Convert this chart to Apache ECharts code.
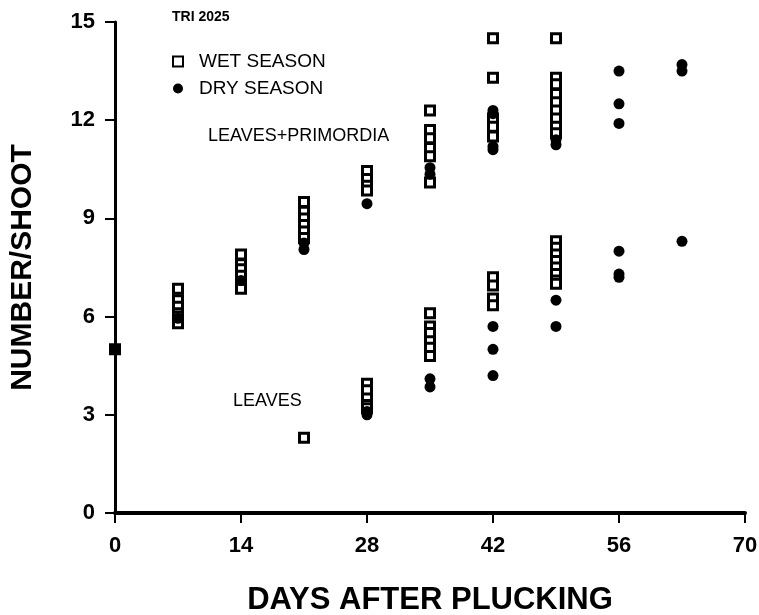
<!DOCTYPE html>
<html>
<head>
<meta charset="utf-8">
<script src="https://cdn.jsdelivr.net/npm/echarts@6/dist/echarts.min.js"></script>
<style>html,body{margin:0;padding:0;background:#fff}#c{width:759px;height:615px}</style>
</head>
<body>
<div id="c"></div>
<script>
// Tick labels
var xTicks = [0, 14, 28, 42, 56, 70];
var yTicks = [0, 3, 6, 9, 12, 15];

// WET SEASON - leaves + primordia [day, number/shoot]
var wetLPDays = [0, 7,7,7,7,7,7,7, 14,14,14,14,14,14,14, 21,21,21,21,21,21, 28,28,28,28, 35,35,35,35,35,35, 42,42,42,42,42, 49,49,49,49,49,49,49,49,49];
var wetLPVals = [5.0, 6.85,6.5,6.3,6.1,6.0,5.9,5.8, 7.9,7.6,7.45,7.25,7.05,6.95,6.85, 9.5,9.2,9.0,8.8,8.6,8.4, 10.45,10.2,10.0,9.85, 12.3,11.7,11.45,11.15,10.9,10.1, 14.5,13.3,12.05,11.8,11.5, 14.5,13.3,13.1,12.8,12.55,12.3,12.05,11.8,11.6];
// WET SEASON - leaves
var wetLDays = [21, 28,28,28,28,28, 35,35,35,35,35,35, 42,42,42,42, 49,49,49,49,49,49,49,49];
var wetLVals = [2.3, 3.95,3.75,3.5,3.3,3.2, 6.1,5.7,5.5,5.25,5.05,4.8, 7.2,6.95,6.55,6.35, 8.3,8.1,7.9,7.7,7.5,7.3,7.1,7.0];

// DRY SEASON - leaves + primordia
var dryLPDays = [0, 7, 14, 21,21, 28, 35,35, 42,42,42,42, 49,49, 56,56,56, 63,63];
var dryLPVals = [5.0, 5.95, 7.1, 8.25,8.05, 9.45, 10.55,10.35, 12.3,12.2,11.2,11.1, 11.4,11.25, 13.5,12.5,11.9, 13.7,13.5];
// DRY SEASON - leaves
var dryLDays = [28,28, 35,35, 42,42,42, 49,49, 56,56,56, 63];
var dryLVals = [3.1,3.0, 4.1,3.85, 5.7,5.0,4.2, 6.5,5.7, 8.0,7.3,7.2, 8.3];

function pairs(d, v){ return d.map(function(x,i){ return [x, v[i]]; }); }
var wetData = pairs(wetLPDays, wetLPVals).concat(pairs(wetLDays, wetLVals));
var dryData = pairs(dryLPDays, dryLPVals).concat(pairs(dryLDays, dryLVals));

var FONT = 'Liberation Sans, Arial, sans-serif';
var chart = echarts.init(document.getElementById('c'), null, {renderer:'canvas'});
chart.setOption({
  animation: false,
  backgroundColor: '#fff',
  grid: {left: 115, right: 14, top: 22, bottom: 102, containLabel: false, outerBoundsMode: 'none'},
  legend: {
    orient: 'vertical', left: 167, top: 47, itemGap: 8,
    itemWidth: 10, itemHeight: 10,
    textStyle: {fontFamily: FONT, fontSize: 19, color: '#000', fontWeight: 'normal', padding: [0,0,0,11]},
    data: ['WET SEASON', 'DRY SEASON']
  },
  xAxis: {
    type: 'value', min: 0, max: 70, interval: 14,
    axisLine: {show: true, lineStyle: {color: '#000', width: 4}},
    axisTick: {show: true, inside: false, length: 10, lineStyle: {color: '#000', width: 2}},
    axisLabel: {fontFamily: FONT, fontSize: 22, fontWeight: 'bold', color: '#000', margin: 22,
      formatter: function(v){ return xTicks.indexOf(v) >= 0 ? String(v) : ''; }},
    splitLine: {show: false},
    name: 'DAYS AFTER PLUCKING', nameLocation: 'middle', nameGap: 72,
    nameTextStyle: {fontFamily: FONT, fontSize: 31, fontWeight: 'bold', color: '#000'}
  },
  yAxis: {
    type: 'value', min: 0, max: 15, interval: 3,
    axisLine: {show: true, lineStyle: {color: '#000', width: 3}},
    axisTick: {show: true, inside: false, length: 10, lineStyle: {color: '#000', width: 2}},
    axisLabel: {fontFamily: FONT, fontSize: 22, fontWeight: 'bold', color: '#000', margin: 20,
      formatter: function(v){ return yTicks.indexOf(v) >= 0 ? String(v) : ''; }},
    splitLine: {show: false},
    name: 'NUMBER/SHOOT', nameLocation: 'middle', nameGap: 77, nameRotate: 90,
    nameTextStyle: {fontFamily: FONT, fontSize: 30, fontWeight: 'bold', color: '#000'}
  },
  series: [
    {
      name: 'WET SEASON', type: 'scatter', data: wetData,
      symbol: 'rect', symbolSize: 9,
      itemStyle: {color: '#fff', borderColor: '#000', borderWidth: 3, opacity: 1}, z: 2
    },
    {
      name: 'DRY SEASON', type: 'scatter', data: dryData,
      symbol: 'circle', symbolSize: 11,
      itemStyle: {color: '#000', opacity: 1}, z: 3
    }
  ],
  graphic: [
    {type: 'text', left: 172, top: 10, style: {text: 'TRI 2025', font: 'bold 14px ' + FONT, fill: '#000'}},
    {type: 'text', left: 208, top: 127, style: {text: 'LEAVES+PRIMORDIA', font: '18px ' + FONT, fill: '#000'}},
    {type: 'text', left: 233, top: 392, style: {text: 'LEAVES', font: '18px ' + FONT, fill: '#000'}}
  ]
});
</script>
</body>
</html>
